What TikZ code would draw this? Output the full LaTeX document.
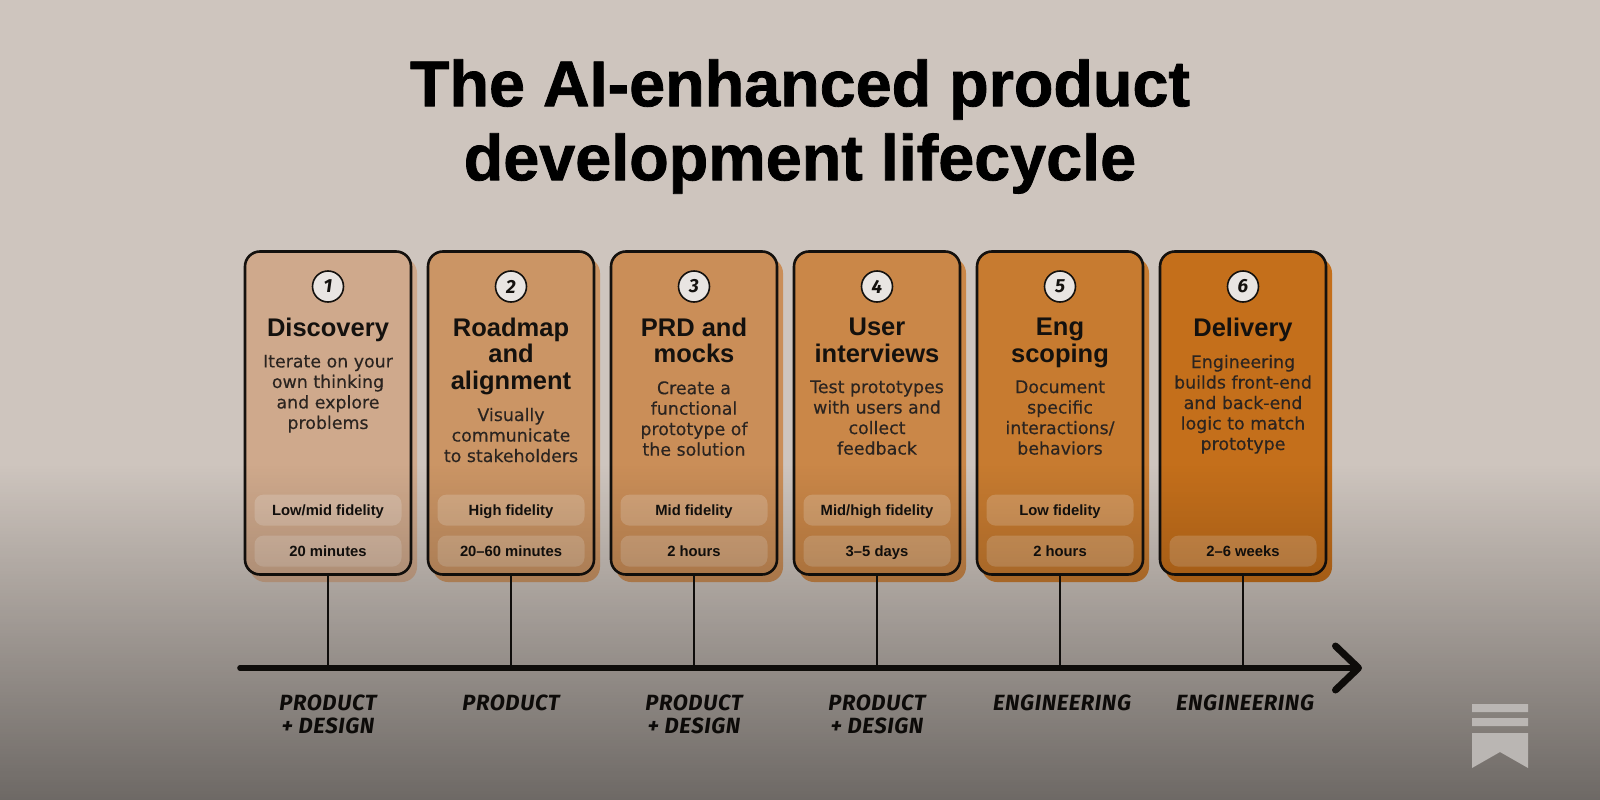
\documentclass[tikz,border=0pt]{standalone}
\usepackage{fontspec}
\setmainfont{Liberation Sans}
\newfontfamily\wideface[FakeBold=0.3]{DejaVu Sans}
\newfontfamily\heavyface[FakeBold=1.2]{Liberation Sans Bold}
\newfontfamily\handfont[LetterSpace=3]{Fira Sans}
\usetikzlibrary{positioning,fadings,arrows.meta}
\definecolor{bgtop}{HTML}{CEC5BE}
\definecolor{inkc}{HTML}{14110E}
\definecolor{bodyc}{HTML}{2B2420}
\definecolor{card1}{HTML}{CFA98C}
\definecolor{card2}{HTML}{CB9565}
\definecolor{card3}{HTML}{CA8E58}
\definecolor{card4}{HTML}{CA8748}
\definecolor{card5}{HTML}{C77B30}
\definecolor{card6}{HTML}{C46F1B}
\definecolor{logoc}{HTML}{BAB6B3}
\tikzfading[name=lowfade,top color=transparent!100,middle color=transparent!70,bottom color=transparent!53]
\tikzset{
cardbox/.style={rounded corners=15pt,minimum width=166pt,minimum height=323pt,inner sep=0pt},
numdot/.style={circle,draw=inkc,line width=1.6pt,fill=white!55!bgtop,minimum size=31pt,inner sep=0pt,text=inkc,font=\handfont\bfseries\itshape\fontsize{19}{19}\selectfont},
cardhead/.style={align=center,inner sep=0pt,text=inkc,font=\bfseries\fontsize{25.5}{26.5}\selectfont,execute at begin node=\vphantom{Ag},execute at end node=\vphantom{gy}},
cardtext/.style={align=center,inner sep=0pt,text=bodyc,font=\wideface\fontsize{17.4}{20.5}\selectfont},
pill/.style={rounded corners=9pt,fill=white,fill opacity=.2,text opacity=1,text=inkc,minimum width=147pt,minimum height=31pt,inner sep=0pt,text height=11pt,text depth=0pt,font=\bfseries\fontsize{14.8}{15}\selectfont},
teamlabel/.style={align=center,inner sep=0pt,text=inkc,font=\handfont\bfseries\itshape\fontsize{22}{23}\selectfont},
}
\begin{document}
\begin{tikzpicture}[x=1pt,y=-1pt,line join=round,line cap=round]
\useasboundingbox (0,0) rectangle (1600,800);
\fill[bgtop] (-2,-2) rectangle (1602,802);
\node[align=center,inner sep=0pt,text=black,font=\heavyface\fontsize{64.7}{74}\selectfont] (title) at (800,126.5) {The AI-enhanced product\\development lifecycle};
\coordinate (axisstart) at (240,668);
\coordinate (axisend) at (1362,668);
\foreach \i/\cx/\tx/\head/\body/\team in {
1/328/328/{Discovery}/{Iterate on your\\own thinking\\and explore\\problems}/{PRODUCT\\+ DESIGN},
2/511/511/{Roadmap\\and\\alignment}/{Visually\\communicate\\to stakeholders}/{PRODUCT},
3/694/694/{PRD and\\mocks}/{Create a\\functional\\prototype of\\the solution}/{PRODUCT\\+ DESIGN},
4/877/877/{User\\interviews}/{Test prototypes\\with users and\\collect\\feedback}/{PRODUCT\\+ DESIGN},
5/1060/1062/{Eng\\scoping}/{Document\\specific\\interactions/\\behaviors}/{ENGINEERING},
6/1243/1245/{Delivery}/{Engineering\\builds front-end\\and back-end\\logic to match\\prototype}/{ENGINEERING}}{
\fill[card\i,rounded corners=15pt] (\cx-78,258) rectangle (\cx+89,582);
\node[cardbox,fill=card\i,draw=inkc,line width=2.6pt] (card\i) at (\cx,413) {};
\node[numdot,below=20pt of card\i.north] (num\i) {\i};
\node[cardhead,below=15pt of num\i] (head\i) {\head};
\node[cardtext,below=12.5pt of head\i] (body\i) {\body};
\node[teamlabel,anchor=north] (team\i) at (\tx,695) {\team};
\coordinate (tick\i) at (card\i.south |- axisstart);
\draw[inkc,line width=2.5pt] (card\i.south) -- (tick\i);
}
% pills
\foreach \i/\txt in {1/Low\slash mid fidelity,2/High fidelity,3/Mid fidelity,4/Mid\slash high fidelity,5/Low fidelity}
\node[pill,above=50pt of card\i.south] (fid\i) {\txt};
\foreach \i/\txt in {1/20 minutes,2/20--60 minutes,3/2 hours,4/3--5 days,5/2 hours,6/2--6 weeks}
\node[pill,above=9pt of card\i.south] (time\i) {\txt};
\draw[inkc,line width=5.6pt,-{Straight Barb[length=23pt,width=44pt,line width=7pt,round]}] (axisstart) -- (axisend);
% darkening towards the bottom
\fill[black,path fading=lowfade] (-200,465) rectangle (1800,802);
% logo
\fill[logoc] (1472,704) rectangle (1528,712) (1472,718) rectangle (1528,726);
\fill[logoc] (1472,733) -- (1528,733) -- (1528,768) -- (1500,752) -- (1472,768) -- cycle;
\end{tikzpicture}
\end{document}
